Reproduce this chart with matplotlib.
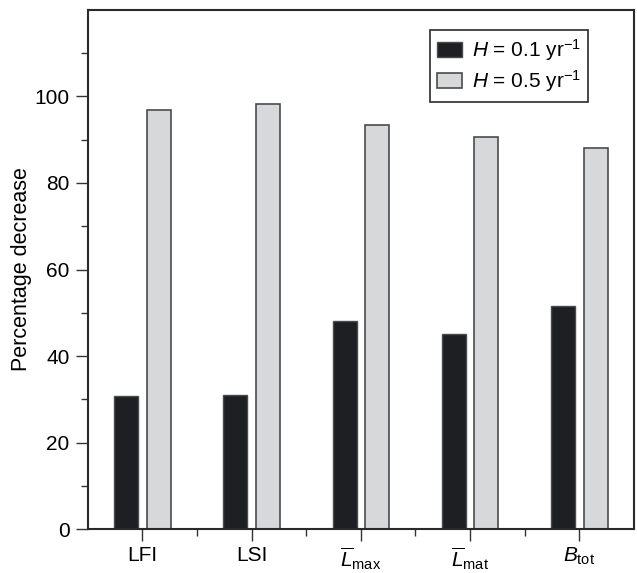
import matplotlib
matplotlib.use("Agg")
import matplotlib.pyplot as plt
import numpy as np

plt.rcParams['font.family'] = ['Liberation Sans', 'DejaVu Sans']
plt.rcParams['mathtext.fontset'] = 'custom'
plt.rcParams['mathtext.rm'] = 'Liberation Sans'
plt.rcParams['mathtext.it'] = 'Liberation Sans:italic'
plt.rcParams['mathtext.bf'] = 'Liberation Sans:bold'

categories = ['LFI', 'LSI', r'$\overline{L}_{\mathrm{max}}$', r'$\overline{L}_{\mathrm{mat}}$', r'$B_{\mathrm{tot}}$']
h01 = [30.8, 31.1, 48.0, 45.2, 51.5]
h05 = [96.9, 98.3, 93.3, 90.7, 88.0]
series_labels = [r'$H$ = 0.1 yr$^{-1}$', r'$H$ = 0.5 yr$^{-1}$']
yticks = [0, 20, 40, 60, 80, 100]

fig = plt.figure(figsize=(6.37, 5.73), dpi=100)
ax = fig.add_axes([0.1377, 0.0763, 0.8576, 0.9067])

x = np.arange(len(categories))
w = 0.22
off = 0.149
edge = '#4a4b4e'
ax.bar(x - off, h01, width=w, color='#1e1f22', edgecolor=edge, linewidth=1.0, label=series_labels[0])
ax.bar(x + off, h05, width=w, color='#d7d8da', edgecolor=edge, linewidth=1.2, label=series_labels[1])

ax.set_xlim(-0.5, 4.5)
ax.set_ylim(0, 120)
ax.set_xticks(x)
ax.set_xticklabels(categories, fontsize=15)
ax.set_xticks(np.arange(0.5, 4.0, 1.0), minor=True)
ax.set_yticks(yticks)
ax.set_yticklabels([str(v) for v in yticks], fontsize=15)
ax.set_yticks(np.arange(10, 120, 20), minor=True)
ax.tick_params(axis='both', which='major', direction='out', length=8.5, width=1.0, color='#333333')
ax.tick_params(axis='y', which='major', pad=4.5)
ax.tick_params(axis='x', which='major', pad=3.5)
ax.tick_params(axis='both', which='minor', direction='out', length=5, width=1.0, color='#333333')
ax.set_ylabel('Percentage decrease', fontsize=15.5, labelpad=2)

for s in ax.spines.values():
    s.set_linewidth(1.5)
    s.set_color('#2a2a2a')

leg = ax.legend(loc='upper right', bbox_to_anchor=(0.916, 0.961), fontsize=15,
                fancybox=False, edgecolor='#2a2a2a', framealpha=1,
                handlelength=1.2, handleheight=0.75, handletextpad=0.45,
                borderpad=0.35, labelspacing=0.25, borderaxespad=0)
leg.get_frame().set_linewidth(1.2)

fig.savefig('out.png', dpi=100)
